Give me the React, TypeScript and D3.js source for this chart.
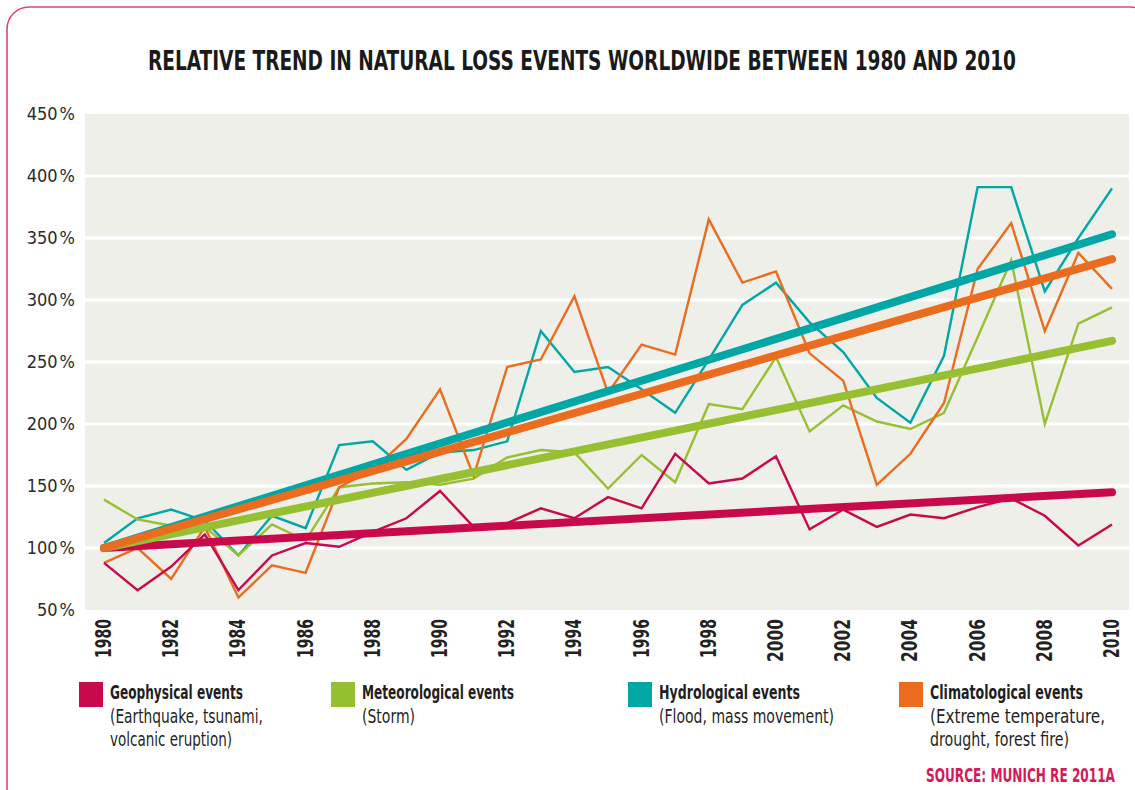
import React from 'react';
import * as d3 from 'd3';

const years = d3.range(1980, 2011);

const geophysical = [88, 66, 85, 111, 66, 94, 104, 101, 113, 124, 146, 117, 120, 132, 124, 141, 132, 176, 152, 156, 174, 115, 131, 117, 127, 124, 133, 140, 126, 102, 119];
const meteorological = [139, 123, 118, 117, 94, 119, 106, 149, 152, 153, 151, 156, 173, 179, 177, 148, 175, 153, 216, 212, 254, 194, 215, 202, 196, 209, 270, 332, 200, 281, 294];
const hydrological = [104, 124, 131, 122, 94, 126, 116, 183, 186, 163, 177, 179, 186, 275, 242, 246, 228, 209, 252, 296, 314, 282, 258, 221, 201, 255, 391, 391, 307, 350, 390];
const climatological = [88, 100, 75, 117, 60, 86, 80, 149, 163, 188, 228, 158, 246, 252, 303, 225, 264, 256, 365, 314, 323, 257, 235, 151, 176, 217, 325, 362, 275, 338, 309];

// trend lines: value in 1980 and in 2010
const trendGeo = [100, 145];
const trendMet = [100, 267];
const trendHyd = [100, 353];
const trendCli = [100, 333];

const yTicks = [50, 100, 150, 200, 250, 300, 350, 400, 450];
const xTicks = d3.range(1980, 2011, 2);

const legendTitles = ['Geophysical events', 'Meteorological events', 'Hydrological events', 'Climatological events'];
const legendNotes = [
  ['(Earthquake, tsunami,', 'volcanic eruption)'],
  ['(Storm)'],
  ['(Flood, mass movement)'],
  ['(Extreme temperature,', 'drought, forest fire)'],
];

const COLORS = ['#c8094b', '#97bf32', '#00a7a5', '#ec6c1f'];
const FONT = "'DejaVu Sans Condensed', 'Liberation Sans', sans-serif";

// widths of the condensed text in the original layout
const titleWidths = [133, 152, 141, 153];
const noteWidths = [[153, 122], [53], [175], [175, 139]];

const App = () => {
  const width = 1135;
  const height = 790;
  const plot = {left: 85, right: 1129, top: 114, bottom: 610};

  const x = d3.scaleLinear().domain([1980, 2010]).range([104, 1112]);
  const y = d3.scaleLinear().domain([50, 450]).range([plot.bottom, plot.top]);

  const line = d3.line<number>()
    .x((d, i) => x(years[i]))
    .y(d => y(d));

  const series = [geophysical, meteorological, hydrological, climatological];
  const trends = [trendGeo, trendMet, trendHyd, trendCli];
  const thinOrder = [2, 1, 3, 0];
  const legendX = [79, 331, 628, 899];

  return <svg width={width} height={height} style={{position: 'absolute', left: 0, top: 0}} fontFamily={FONT}>
    <rect x={0} y={0} width={width} height={height} fill="#fff" />
    <rect x={7} y={7} width={1145} height={820} rx={22} fill="none" stroke="#e0447a" strokeWidth={1.6} />

    <text x={582} y={70} textAnchor="middle" fontSize={27} fontWeight="bold" fill="#1a1a1a"
      textLength={868} lengthAdjust="spacingAndGlyphs">
      RELATIVE TREND IN NATURAL LOSS EVENTS WORLDWIDE BETWEEN 1980 AND 2010
    </text>

    <rect x={plot.left} y={plot.top} width={plot.right - plot.left} height={plot.bottom - plot.top} fill="#efefea" />
    {yTicks.filter(t => t > 50 && t < 450).map(t => (
      <line key={t} x1={plot.left} x2={plot.right} y1={y(t)} y2={y(t)} stroke="#fff" strokeWidth={3} />
    ))}
    {yTicks.map(t => (
      <text key={t} x={75} y={y(t)} dy="0.35em" textAnchor="end" fontSize={18} fill="#2a2a2a">
        <tspan>{t}</tspan><tspan dx={2}>%</tspan>
      </text>
    ))}
    {xTicks.map(t => {
      const ones = String(t).split('').filter(c => c === '1').length;
      return <text key={t} transform={`translate(${x(t) + 7},619) rotate(-90)`} textAnchor="end" fontSize={21}
        fontWeight="bold" fill="#222" textLength={43 - 4 * ones} lengthAdjust="spacingAndGlyphs">{t}</text>
    })}

    {thinOrder.map(i => (
      <path key={'s' + i} d={line(series[i]) || ''} fill="none" stroke={COLORS[i]} strokeWidth={2.4} strokeLinejoin="miter" />
    ))}
    {trends.map((t, i) => (
      <line key={'t' + i} x1={x(1980)} y1={y(t[0])} x2={x(2010)} y2={y(t[1])} stroke={COLORS[i]} strokeWidth={8} strokeLinecap="round" />
    ))}

    {legendTitles.map((name, i) => (
      <g key={name} transform={`translate(${legendX[i]},682)`}>
        <rect x={0} y={0} width={24} height={25} fill={COLORS[i]} />
        <text x={31} y={17} fontSize={20} fontWeight="bold" fill="#1f1f1f"
          textLength={titleWidths[i]} lengthAdjust="spacingAndGlyphs">{name}</text>
        {legendNotes[i].map((n, j) => (
          <text key={j} x={31} y={41 + j * 22.5} fontSize={20} fill="#1f1f1f"
            textLength={noteWidths[i][j]} lengthAdjust="spacingAndGlyphs">{n}</text>
        ))}
      </g>
    ))}

    <text x={1115} y={782} textAnchor="end" fontSize={20} fontWeight="bold" fill="#d6195a"
      textLength={189} lengthAdjust="spacingAndGlyphs">SOURCE: MUNICH RE 2011A</text>
  </svg>
}

export default App;
